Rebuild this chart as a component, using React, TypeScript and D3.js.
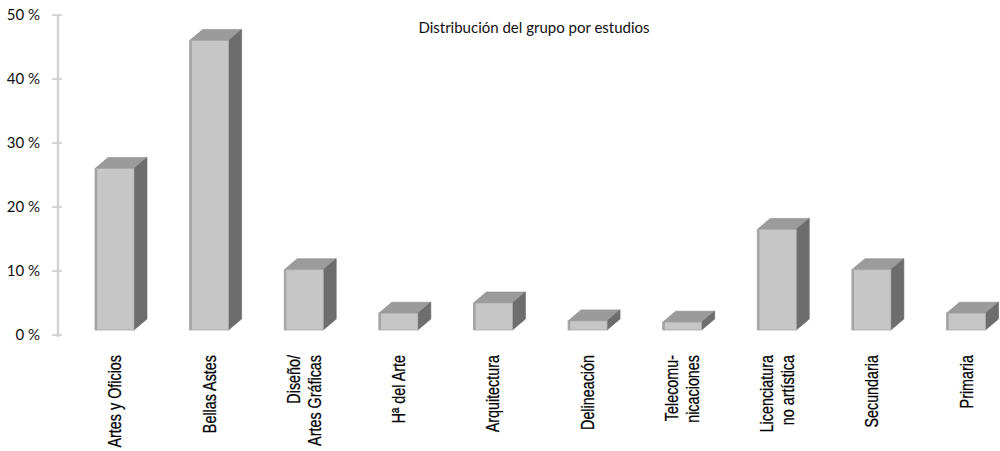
import React from "react";
import * as d3 from "d3";

const categories: string[][] = [
  ["Artes y Oficios"],
  ["Bellas Astes"],
  ["Diseño/", "Artes Gráficas"],
  ["Hª del Arte"],
  ["Arquitectura"],
  ["Delineación"],
  ["Telecomu-", "nicaciones"],
  ["Licenciatura", "no artística"],
  ["Secundaria"],
  ["Primaria"],
];
const values: number[] = [26, 46, 10.2, 3.4, 5, 2.2, 2, 16.5, 10.2, 3.4];
const yTicks: number[] = [0, 10, 20, 30, 40, 50];
const title = "Distribución del grupo por estudios";

const W = 1000;
const H = 451;

export default function App() {
  const ids = categories.map((_, i) => String(i));
  const x = d3.scalePoint<string>().domain(ids).range([114.5, 966]);
  const y = d3.scaleLinear().domain([0, 50]).range([335, 15]);
  const bw = 39;
  const dx = 13;
  const dy = -11;
  const floorY = y(0) - 5;

  const labelFont = "'Liberation Sans', Arial, sans-serif";

  return (
    <svg width={W} height={H} style={{ position: "absolute", left: 0, top: 0, background: "#fff" }}>
      <text x={534} y={33} textAnchor="middle" fontFamily="Lato, 'Open Sans', sans-serif" fontSize={15} fill="#111">
        {title}
      </text>
      {/* y axis */}
      <line x1={58} x2={58} y1={y(50)} y2={y(0) + 2} stroke="#d4d4d4" strokeWidth={2.5} />
      {yTicks.map((t) => (
        <g key={t}>
          <line x1={52} x2={62} y1={y(t)} y2={y(t)} stroke="#c8c8c8" strokeWidth={1.5} />
          <text x={40} y={y(t)} dy="0.35em" textAnchor="end" fontFamily="Lato, sans-serif" fontSize={15} fill="#111">
            {t} %
          </text>
        </g>
      ))}
      {/* bars */}
      {values.map((v, i) => {
        const cx = x(String(i))!;
        const l = cx - bw / 2;
        const r = cx + bw / 2;
        const t = y(v);
        const b = floorY;
        const top = `M${l},${t} L${l + dx},${t + dy} L${r + dx},${t + dy} L${r},${t} Z`;
        const side = `M${r},${t} L${r + dx},${t + dy} L${r + dx},${b + dy} L${r},${b} Z`;
        return (
          <g key={i}>
            <path d={top} fill="#9b9b9b" stroke="#8a8a8a" strokeWidth={0.6} />
            <path d={side} fill="#6d6d6d" stroke="#666" strokeWidth={0.6} />
            <rect x={l} y={t} width={bw} height={b - t} fill="#c6c6c6" stroke="#a9a9a9" strokeWidth={0.8} />
            <rect x={l} y={t} width={2.2} height={b - t} fill="#a4a4a4" />
          </g>
        );
      })}
      {/* category labels */}
      {categories.map((lines, i) => {
        const cx = x(String(i))!;
        const n = lines.length;
        return (
          <g key={i} transform={`translate(${cx},355) rotate(-90)`}>
            {lines.map((ln, j) => {
              const base = n === 1 ? 6.5 : j === 0 ? -4 : 17;
              return (
                <text
                  key={j}
                  transform={`translate(0,${base}) scale(0.82,1)`}
                  textAnchor="end"
                  fontFamily={labelFont}
                  fontSize={17.5}
                  fill="#000"
                  stroke="#000"
                  strokeWidth={0.25}
                >
                  {ln}
                </text>
              );
            })}
          </g>
        );
      })}
    </svg>
  );
}
